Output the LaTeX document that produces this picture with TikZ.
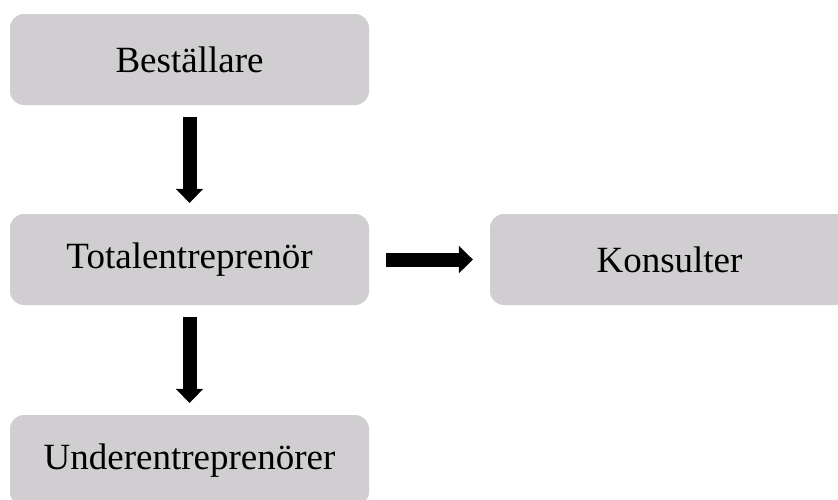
\documentclass[tikz,border=0pt]{standalone}
\usepackage{fontspec}
\setmainfont{Liberation Serif}
\usetikzlibrary{arrows.meta}
\definecolor{boxgray}{HTML}{D0CED0}
\tikzset{ruta/.style={fill=boxgray,rounded corners=14pt,minimum width=359pt,minimum height=91pt,inner sep=0pt,font=\fontsize{37}{37}\selectfont}}
\tikzset{pil/.style={line width=14pt}}
\tikzset{spets/.tip={Triangle[length=14pt,width=27pt]}}

\begin{document}
\begin{tikzpicture}[x=1pt,y=-1pt]
        \useasboundingbox (0,0) rectangle (838,499);
        \clip (0,0) rectangle (838,499);
        \node[ruta] (B) at (189.5,59.5) {Beställare};
        \node[ruta] (T) at (189.5,259.5) {Totalentreprenör}
          edge [pil, spets-, shorten >=12pt, shorten <=11pt] (B);
        \node[ruta] (K) at (669.5,259.5) {Konsulter}
          edge [pil, spets-, shorten >=17pt, shorten <=17pt] (T);
        \node[ruta] (U) at (189.5,460.5) {Underentreprenörer}
          edge [pil, spets-, shorten >=12pt, shorten <=12pt] (T);
      \end{tikzpicture}
\end{document}
